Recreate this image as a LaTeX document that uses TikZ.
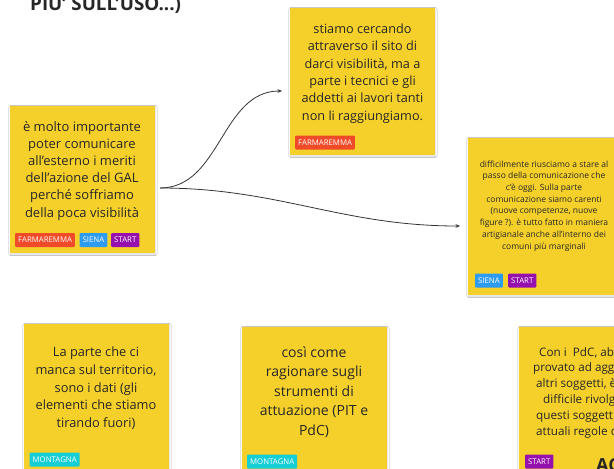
\documentclass[tikz,border=0pt]{standalone}
\usepackage{fontspec}
\setmainfont{Open Sans}
\usetikzlibrary{arrows.meta,shadows.blur}
\definecolor{sticky}{HTML}{F5D02B}
\definecolor{inkc}{HTML}{262626}
\definecolor{tagred}{HTML}{F04B29}
\definecolor{tagblue}{HTML}{2D9BF0}
\definecolor{tagpurple}{HTML}{9510AC}
\definecolor{tagcyan}{HTML}{15CDD4}
\definecolor{linec}{HTML}{333333}
\tikzset{
  note/.style={rectangle, fill=sticky, inner sep=0pt, outer sep=0pt, anchor=north west,
    blur shadow={shadow xshift=0.5pt, shadow yshift=-1pt, shadow blur radius=1.6pt, shadow opacity=15}},
  notetext/.style={align=center, text=inkc, anchor=base, inner sep=0pt},
  tagbox/.style={rectangle, rounded corners=1pt, text=white, anchor=west, minimum height=14pt,
    inner xsep=3pt, inner ysep=0pt, font=\fontsize{7.8}{9}\selectfont},
  conn/.style={draw=linec, line width=0.8pt, -{Stealth[length=4.5pt,width=3.8pt]}}
}
\begin{document}
\begin{tikzpicture}[x=1pt,y=-1pt]
\useasboundingbox (0,0) rectangle (614,469);
\clip (0,0) rectangle (614,469);
\fill[white] (0,0) rectangle (614,469);

% title (cut at top)
\node[anchor=base west, inner sep=0pt, text=inkc, font=\bfseries\fontsize{18.8}{22}\selectfont] (title) at (30,10.3) {PIU' SULL'USO...)};

% notes
\node[note, minimum width=145pt, minimum height=147pt] (n1) at (10,106) {};
\node[note, minimum width=145pt, minimum height=147pt] (n2) at (290,8) {};
\node[note, minimum width=152pt, minimum height=157pt] (n3) at (468,138) {};
\node[note, minimum width=145pt, minimum height=160pt] (n4) at (24,324) {};
\node[note, minimum width=145pt, minimum height=160pt] (n5) at (242,327) {};
\node[note, minimum width=145pt, minimum height=160pt] (n6) at (519,327) {};

% texts (base anchor = baseline of last line)
\node[notetext, font=\fontsize{13}{17.2}\selectfont] (t1) at (82,217)
  {è molto importante\\poter comunicare\\all'esterno i meriti\\dell'azione del GAL\\perché soffriamo\\della poca visibilità};
\node[notetext, font=\fontsize{12.7}{17.3}\selectfont] (t2) at (362.5,120)
  {stiamo cercando\\attraverso il sito di\\darci visibilità, ma a\\parte i tecnici e gli\\addetti ai lavori tanti\\non li raggiungiamo.};
\node[notetext, font=\fontsize{8.5}{11.7}\selectfont] (t3) at (544,249)
  {difficilmente riusciamo a stare al\\passo della comunicazione che\\c'è oggi. Sulla parte\\comunicazione siamo carenti\\(nuove competenze, nuove\\figure ?). è tutto fatto in maniera\\artigianale anche all'interno dei\\comuni più marginali};
\node[notetext, font=\fontsize{12.8}{17.65}\selectfont] (t4) at (96,427.3)
  {La parte che ci\\manca sul territorio,\\sono i dati (gli\\elementi che stiamo\\tirando fuori)};
\node[notetext, font=\fontsize{14}{19.4}\selectfont] (t5) at (314,435)
  {così come\\ragionare sugli\\strumenti di\\attuazione (PIT e\\PdC)};
\begin{scope}[every node/.style={anchor=base west, inner sep=0pt, text=inkc, font=\fontsize{11.7}{15.8}\selectfont}]
\node (t6a) at (539,356) {Con i\ \ PdC, abbiamo};
\node (t6b) at (533,371.8) {provato ad agganciare};
\node (t6c) at (536,387.6) {altri soggetti, è};
\node (t6d) at (543,403.4) {difficile rivolgersi};
\node (t6e) at (536,419.2) {questi soggetti con};
\node (t6f) at (536,435) {attuali regole del};
\end{scope}
\node[anchor=base west, inner sep=0pt, text=inkc, font=\bfseries\fontsize{18}{20}\selectfont] (ac) at (596,471.5) {AC};

% tags
\node[tagbox, fill=tagred] (g1a) at (15,240) {FARMAREMMA};
\node[tagbox, fill=tagblue] (g1b) at (79.5,240) {SIENA};
\node[tagbox, fill=tagpurple] (g1c) at (111,240) {START};
\node[tagbox, fill=tagred] (g2a) at (295,142.5) {FARMAREMMA};
\node[tagbox, fill=tagblue] (g3a) at (475,280.5) {SIENA};
\node[tagbox, fill=tagpurple] (g3b) at (508,280.5) {START};
\node[tagbox, fill=tagcyan] (g4a) at (29.5,459.5) {MONTAGNA};
\node[tagbox, fill=tagcyan] (g5a) at (247,461.5) {MONTAGNA};
\node[tagbox, fill=tagpurple] (g6a) at (525,461.5) {START};

% connectors
\draw[conn] ([xshift=5pt,yshift=-8.5pt]n1.east) to[out=0,in=180] ([xshift=-8pt,yshift=-9.5pt]n2.west);
\draw[conn] ([xshift=5pt,yshift=-8.5pt]n1.east) to[out=0,in=180] ([xshift=-8pt,yshift=-9.5pt]n3.west);
\end{tikzpicture}
\end{document}
